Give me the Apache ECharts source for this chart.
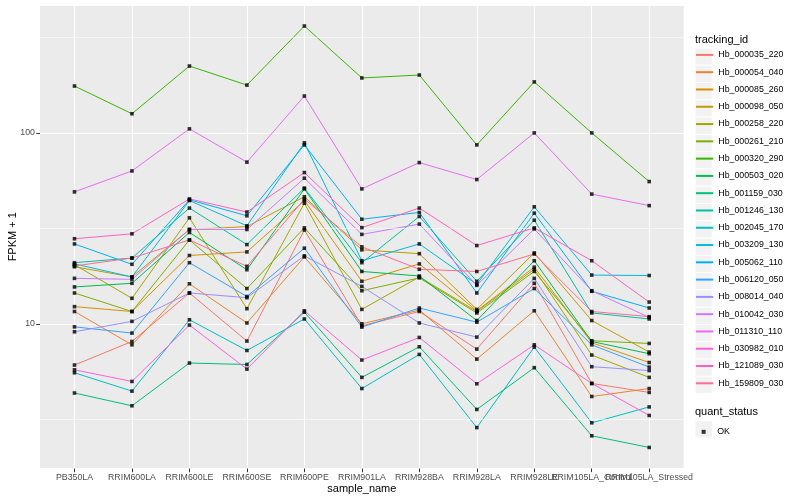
<!DOCTYPE html>
<html>
<head>
<meta charset="utf-8">
<script src="https://cdn.jsdelivr.net/npm/echarts@6/dist/echarts.min.js"></script>
<style>html,body{margin:0;padding:0;background:#fff}#c{width:800px;height:500px}</style>
</head>
<body>
<div id="c"></div>
<script>
const samples = ['PB350LA','RRIM600LA','RRIM600LE','RRIM600SE','RRIM600PE','RRIM901LA','RRIM928BA','RRIM928LA','RRIM928LE','RRIM105LA_Control','RRIM105LA_Stressed'];
const trackingIds = ['Hb_000035_220','Hb_000054_040','Hb_000085_260','Hb_000098_050','Hb_000258_220','Hb_000261_210','Hb_000320_290','Hb_000503_020','Hb_001159_030','Hb_001246_130','Hb_002045_170','Hb_003209_130','Hb_005062_110','Hb_006120_050','Hb_008014_040','Hb_010042_030','Hb_011310_110','Hb_030982_010','Hb_121089_030','Hb_159809_030'];
const palette = ['#F8766D','#EA8331','#D89000','#C09B00','#A3A500','#7CAE00','#39B600','#00BB4E','#00BF7D','#00C1A3','#00BFC4','#00BAE0','#00B0F6','#35A2FF','#9590FF','#C77CFF','#E76BF3','#FA62DB','#FF62BC','#FF6C91'];
const yMinorTicks = [3.162, 31.62, 316.2];

const Hb_000035_220 = [6.08, 8.08, 14.5, 8.12, 31.0, 9.76, 11.6, 7.37, 16.3, 4.87, 4.37];
const Hb_000054_040 = [11.6, 7.76, 16.2, 10.1, 22.4, 10.0, 11.8, 6.53, 11.7, 4.16, 4.58];
const Hb_000085_260 = [12.3, 11.6, 22.8, 23.8, 44.2, 16.7, 20.6, 11.7, 19.8, 7.96, 6.27];
const Hb_000098_050 = [19.9, 17.6, 31.2, 32.3, 46.3, 24.4, 23.3, 11.9, 23.5, 10.4, 7.11];
const Hb_000258_220 = [20.4, 13.6, 35.9, 12.0, 42.8, 11.9, 17.6, 11.6, 19.3, 6.86, 5.24];
const Hb_000261_210 = [14.5, 11.6, 27.5, 15.3, 31.8, 14.9, 17.4, 11.4, 18.8, 8.15, 7.89];
const Hb_000320_290 = [176, 126, 224, 178, 363, 194, 201, 86.5, 185, 100, 55.6];
const Hb_000503_020 = [15.6, 16.3, 30.1, 19.2, 50.9, 18.8, 17.8, 10.4, 21.4, 8.08, 6.97];
const Hb_001159_030 = [4.34, 3.72, 6.23, 6.12, 11.5, 5.24, 7.58, 3.56, 5.89, 2.59, 2.25];
const Hb_001246_130 = [20.9, 22.1, 40.4, 26.0, 51.4, 20.9, 36.5, 16.7, 34.9, 11.4, 10.6];
const Hb_002045_170 = [5.54, 4.44, 10.5, 7.25, 10.6, 4.58, 6.91, 2.86, 7.55, 3.03, 3.67];
const Hb_003209_130 = [20.6, 17.6, 44.2, 32.6, 88.7, 21.4, 26.2, 16.1, 41.0, 18.0, 17.9];
const Hb_005062_110 = [26.2, 20.5, 44.6, 36.8, 86.5, 35.3, 38.3, 14.5, 38.0, 14.8, 12.1];
const Hb_006120_050 = [9.64, 8.94, 20.9, 13.9, 24.9, 9.61, 12.1, 10.2, 15.3, 7.76, 5.93];
const Hb_008014_040 = [9.08, 10.3, 14.5, 13.7, 22.7, 15.7, 10.1, 8.52, 17.3, 5.96, 5.69];
const Hb_010042_030 = [17.3, 17.1, 31.2, 31.2, 57.9, 29.4, 33.3, 15.9, 31.4, 14.9, 10.8];
const Hb_011310_110 = [49.1, 63.2, 105, 70.3, 156, 50.9, 69.9, 57.0, 100, 47.8, 41.6];
const Hb_030982_010 = [5.74, 4.99, 9.85, 5.79, 11.7, 6.46, 8.48, 4.85, 7.76, 4.87, 3.31];
const Hb_121089_030 = [27.9, 29.6, 45.1, 38.5, 62.0, 31.9, 40.4, 25.7, 31.8, 21.4, 13.0];
const Hb_159809_030 = [20.1, 22.1, 27.5, 20.0, 45.0, 25.3, 19.3, 18.8, 23.2, 11.6, 10.9];

const seriesValues = [Hb_000035_220, Hb_000054_040, Hb_000085_260, Hb_000098_050, Hb_000258_220, Hb_000261_210, Hb_000320_290, Hb_000503_020, Hb_001159_030, Hb_001246_130, Hb_002045_170, Hb_003209_130, Hb_005062_110, Hb_006120_050, Hb_008014_040, Hb_010042_030, Hb_011310_110, Hb_030982_010, Hb_121089_030, Hb_159809_030];

const FONT = 'Liberation Sans, Arial, sans-serif';
const evenIdx = samples.map((s, i) => i).filter(i => i % 2 === 0);
const oddIdx = samples.map((s, i) => i).filter(i => i % 2 === 1);

const lineSeries = trackingIds.map((name, k) => ({
  name: name,
  type: 'line',
  xAxisIndex: 0,
  data: seriesValues[k].map((v, i) => [i, v]),
  showSymbol: false,
  symbol: 'none',
  lineStyle: { color: palette[k], width: 1 },
  itemStyle: { color: palette[k] },
  z: 3,
  silent: true,
  animation: false
}));

const pointData = [];
seriesValues.forEach(arr => arr.forEach((v, i) => pointData.push([i, v])));

const gridSeries = {
  name: '_grid',
  type: 'line',
  xAxisIndex: 0,
  data: [],
  z: 1,
  silent: true,
  animation: false,
  markLine: {
    silent: true,
    symbol: 'none',
    label: { show: false },
    animation: false,
    lineStyle: { color: '#FFFFFF', width: 0.55, type: 'solid' },
    data: yMinorTicks.map(v => ({ yAxis: v }))
  }
};

const pointSeries = {
  name: 'OK',
  type: 'scatter',
  xAxisIndex: 0,
  data: pointData,
  symbol: 'rect',
  symbolSize: 3.6,
  itemStyle: { color: '#000000' },
  z: 5,
  silent: true,
  animation: false
};

const KEY = 17.28;
const legendLeft = 695;
const legendTop = 48;
const graphics = trackingIds.map((n, i) => ({
  type: 'rect', z: 0,
  shape: { x: legendLeft, y: legendTop + i * KEY, width: KEY, height: KEY },
  style: { fill: '#F2F2F2', stroke: '#FFFFFF', lineWidth: 1 }
}));
graphics.push({
  type: 'rect', z: 0,
  shape: { x: legendLeft, y: 420.7, width: KEY, height: KEY },
  style: { fill: '#F2F2F2', stroke: '#FFFFFF', lineWidth: 1 }
});

function xAxisDef(values, withName) {
  return {
    type: 'value',
    position: 'bottom',
    min: -0.6, max: 10.6,
    name: withName ? 'sample_name' : '',
    nameLocation: 'middle',
    nameGap: 15,
    nameMoveOverlap: false,
    nameTextStyle: { fontSize: 11, color: '#000', fontFamily: FONT },
    axisLine: { show: false, onZero: false },
    axisTick: { show: true, customValues: values, length: 3.7, lineStyle: { color: '#333333', width: 1 } },
    axisLabel: { show: true, customValues: values, margin: 5, fontSize: 8.8, color: '#4D4D4D', fontFamily: FONT,
      hideOverlap: false, showMinLabel: true, showMaxLabel: true,
      formatter: v => samples[Math.round(v)] || '' },
    splitLine: { show: true, lineStyle: { color: '#FFFFFF', width: 1.1 } }
  };
}

const option = {
  animation: false,
  backgroundColor: '#FFFFFF',
  textStyle: { fontFamily: FONT },
  title: [
    { text: 'tracking_id', left: 695, top: 34, padding: 0,
      textStyle: { fontSize: 11, fontWeight: 'normal', color: '#000', fontFamily: FONT } },
    { text: 'quant_status', left: 695, top: 406, padding: 0,
      textStyle: { fontSize: 11, fontWeight: 'normal', color: '#000', fontFamily: FONT } }
  ],
  graphic: graphics,
  grid: {
    left: 40, right: 116.3, top: 5, bottom: 31.5,
    show: true, backgroundColor: '#EBEBEB', borderWidth: 0,
    outerBoundsMode: 'none', containLabel: false
  },
  xAxis: [xAxisDef(evenIdx, true), xAxisDef(oddIdx, false)],
  yAxis: {
    type: 'log',
    logBase: 10,
    min: 1.746, max: 467.7,
    name: 'FPKM + 1',
    nameLocation: 'middle',
    nameGap: 22,
    nameMoveOverlap: false,
    nameTextStyle: { fontSize: 11, color: '#000', fontFamily: FONT },
    axisLine: { show: false, onZero: false },
    axisTick: { show: true, length: 3.7, lineStyle: { color: '#333333', width: 1 } },
    axisLabel: { show: true, margin: 5, fontSize: 8.8, color: '#4D4D4D', fontFamily: FONT,
      showMinLabel: false, showMaxLabel: false },
    splitLine: { show: true, lineStyle: { color: '#FFFFFF', width: 1.1 } },
    minorSplitLine: { show: false }
  },
  legend: [
    {
      data: trackingIds,
      orient: 'vertical',
      left: legendLeft, top: legendTop,
      padding: 0,
      itemWidth: KEY, itemHeight: KEY, itemGap: 3.46,
      selectedMode: false,
      itemStyle: { opacity: 0 },
      textStyle: { fontSize: 8.8, color: '#000', fontFamily: FONT }
    },
    {
      data: [{ name: 'OK', icon: 'rect' }],
      orient: 'vertical',
      left: legendLeft + KEY / 2 - 2, top: 420.7 + KEY / 2 - 2,
      padding: 0,
      itemWidth: 4, itemHeight: 4,
      selectedMode: false,
      formatter: '{a|OK}',
      textStyle: { fontSize: 8.8, color: '#000', fontFamily: FONT,
        rich: { a: { fontSize: 8.8, color: '#000', fontFamily: FONT, padding: [0, 0, 0, 6.5] } } }
    }
  ],
  series: [gridSeries].concat(lineSeries).concat([pointSeries])
};

const chart = echarts.init(document.getElementById('c'), null, { renderer: 'canvas' });
chart.setOption(option);
</script>
</body>
</html>
